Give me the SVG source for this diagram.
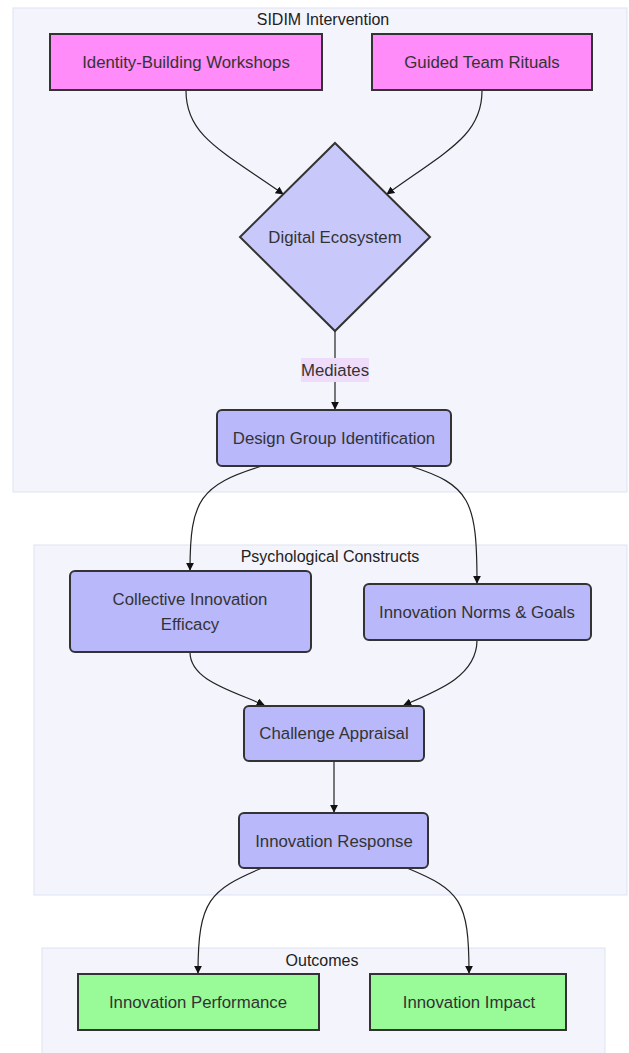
<svg xmlns="http://www.w3.org/2000/svg" width="629" height="1053" viewBox="0 0 629 1053">
<defs>
<style>
.cl{fill:#f4f4fd;stroke:#dde4f2;stroke-width:1}
.ct{font-family:"Liberation Sans",Arial,sans-serif;font-size:16px;fill:#222;text-anchor:middle}
.t{font-family:"Liberation Sans",Arial,sans-serif;font-size:16.8px;fill:#333;text-anchor:middle;dominant-baseline:central}
.pk{fill:#ff8cf8;stroke:#333;stroke-width:2}
.bl{fill:#b8b8fb;stroke:#333;stroke-width:2}
.dm{fill:#c8c8fb;stroke:#333;stroke-width:2}
.gr{fill:#98fb98;stroke:#333;stroke-width:2}
.e{fill:none;stroke:#222;stroke-width:1.2;marker-end:url(#ah)}
</style>
<marker id="ah" viewBox="0 0 10 10" refX="9" refY="5" markerWidth="8" markerHeight="8" markerUnits="userSpaceOnUse" orient="auto">
<path d="M0,0 L10,5 L0,10 z" fill="#111"/>
</marker>
</defs>
<rect width="629" height="1053" fill="#fff"/>
<g id="clusters">
<g id="sidim"><rect class="cl" x="13" y="8" width="614" height="484"/><text class="ct" x="323" y="25">SIDIM Intervention</text></g>
<g id="psych"><rect class="cl" x="34" y="545" width="593" height="350"/><text class="ct" x="330" y="562">Psychological Constructs</text></g>
<g id="outcomes"><rect class="cl" x="42" y="948" width="563" height="110"/><text class="ct" x="322" y="966">Outcomes</text></g>
</g>
<g id="edges">
<path class="e" d="M186,91 C186,135 220,150 283,194"/>
<path class="e" d="M482,91 C482,135 448,150 387,194"/>
<path class="e" d="M335,331 L335,409"/>
<path class="e" d="M262,466 C200,485 190,500 190,570"/>
<path class="e" d="M410,466 C470,485 477,500 477,583"/>
<path class="e" d="M190,652 C190,680 230,690 264,705"/>
<path class="e" d="M477,640 C477,675 440,690 404,705"/>
<path class="e" d="M334,761 L334,812"/>
<path class="e" d="M262,868 C210,890 198,900 198,973"/>
<path class="e" d="M407,868 C460,890 469,900 469,973"/>
</g>
<g id="edge-label-mediates"><rect x="301" y="358" width="68" height="24" fill="#efdcfa"/><text class="t" x="335" y="370">Mediates</text></g>
<g id="n-identity"><rect class="pk" x="50" y="34" width="272" height="56"/><text class="t" x="186" y="62">Identity-Building Workshops</text></g>
<g id="n-rituals"><rect class="pk" x="372" y="34" width="220" height="56"/><text class="t" x="482" y="62">Guided Team Rituals</text></g>
<g id="n-digital"><polygon class="dm" points="335,143 430,237 335,331 240,237"/><text class="t" x="335" y="237">Digital Ecosystem</text></g>
<g id="n-design"><rect class="bl" x="217" y="410" width="234" height="56" rx="5"/><text class="t" x="334" y="438">Design Group Identification</text></g>
<g id="n-efficacy"><rect class="bl" x="70" y="571" width="241" height="81" rx="5"/><text class="t" x="190" y="599">Collective Innovation</text><text class="t" x="190" y="624">Efficacy</text></g>
<g id="n-norms"><rect class="bl" x="364" y="584" width="227" height="56" rx="5"/><text class="t" x="477" y="612">Innovation Norms &amp; Goals</text></g>
<g id="n-challenge"><rect class="bl" x="244" y="706" width="180" height="55" rx="5"/><text class="t" x="334" y="733">Challenge Appraisal</text></g>
<g id="n-response"><rect class="bl" x="239" y="813" width="189" height="55" rx="5"/><text class="t" x="334" y="841">Innovation Response</text></g>
<g id="n-performance"><rect class="gr" x="78" y="974" width="241" height="56"/><text class="t" x="198" y="1002">Innovation Performance</text></g>
<g id="n-impact"><rect class="gr" x="370" y="974" width="196" height="56"/><text class="t" x="469" y="1002">Innovation Impact</text></g>
</svg>
